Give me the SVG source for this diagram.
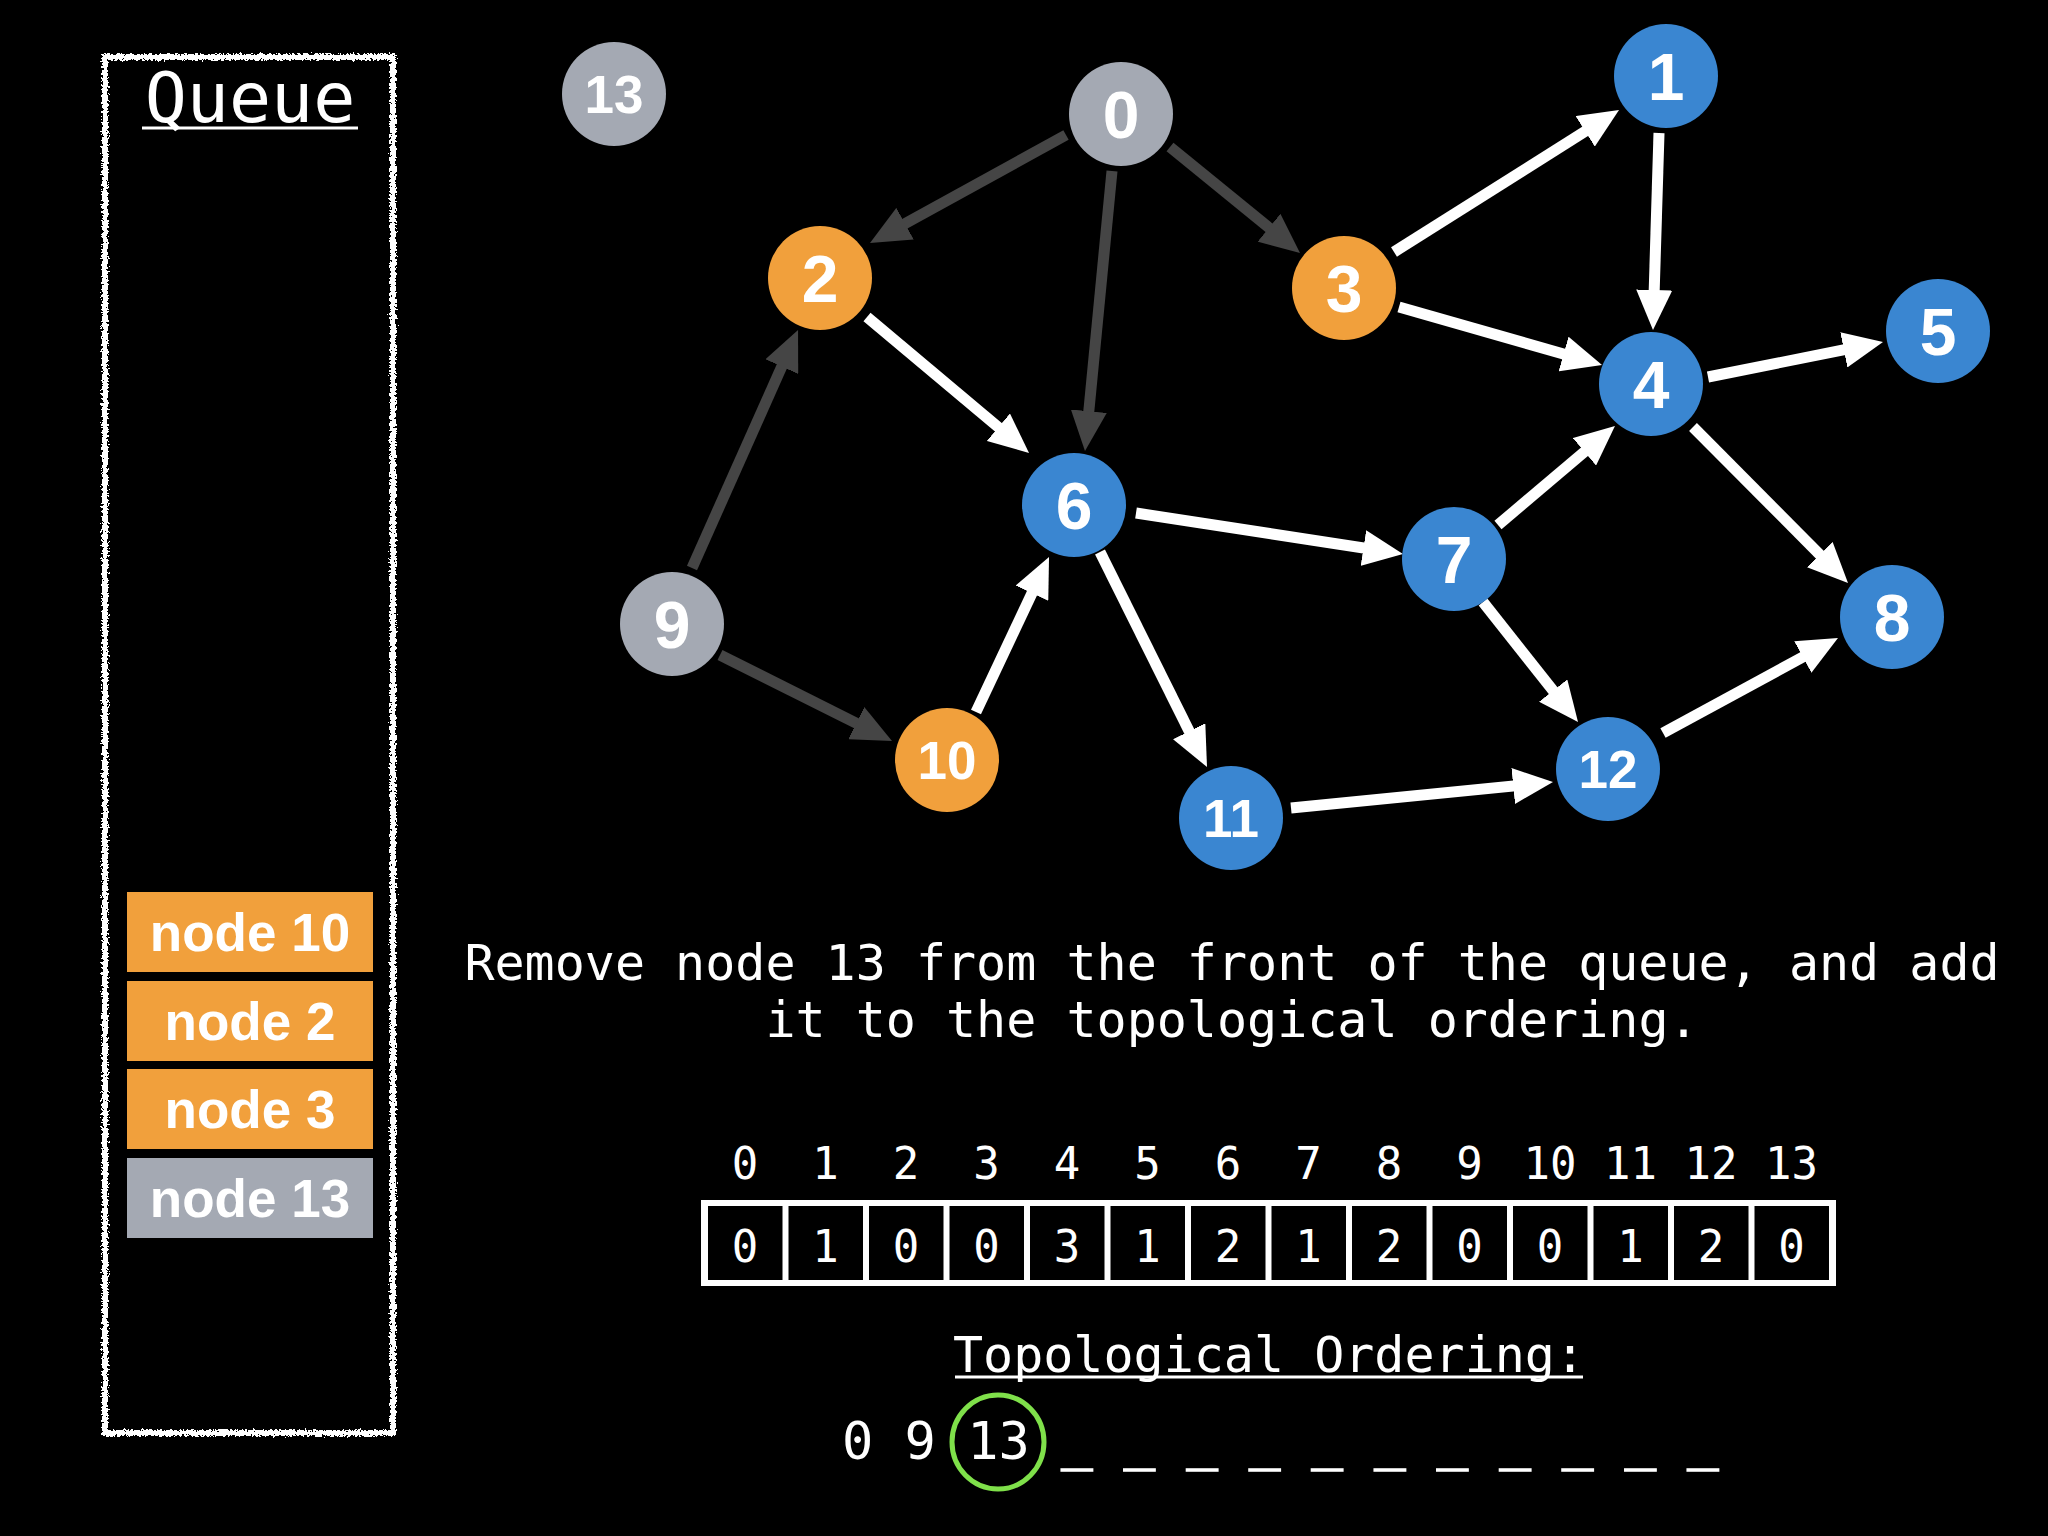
<svg xmlns="http://www.w3.org/2000/svg" width="2048" height="1536" viewBox="0 0 2048 1536">
<style>
.mono{font-family:"DejaVu Sans Mono","Liberation Mono",monospace;fill:#fff}
.lbl{font-family:"Liberation Sans",Arial,sans-serif;font-weight:bold;fill:#fff;text-anchor:middle}
.grey{fill:#a4a9b3}
.orange{fill:#f1a03c}
.blue{fill:#3a86d1}
.ew{stroke:#fff;stroke-width:11;fill:none}
.ed{stroke:#454545;stroke-width:11;fill:none}
.ew{marker-end:url(#aw)}
.ed{marker-end:url(#ad)}
</style>
<defs>
<marker id="aw" markerUnits="userSpaceOnUse" markerWidth="40" markerHeight="36" refX="20" refY="18" orient="auto" viewBox="0 0 40 36"><path d="M0,0 L40,18 L0,36 z" fill="#fff"/></marker>
<marker id="ad" markerUnits="userSpaceOnUse" markerWidth="40" markerHeight="36" refX="20" refY="18" orient="auto" viewBox="0 0 40 36"><path d="M0,0 L40,18 L0,36 z" fill="#454545"/></marker>
<filter id="rough" x="-5%" y="-5%" width="110%" height="110%"><feTurbulence type="fractalNoise" baseFrequency="0.45" numOctaves="2" seed="3"/><feDisplacementMap in="SourceGraphic" scale="7"/></filter>
</defs>
<rect width="2048" height="1536" fill="#000"/>

<g id="queue">
<rect x="105" y="57" width="288" height="1376" fill="none" stroke="#fff" stroke-width="6" filter="url(#rough)"/>
<text class="mono" x="250" y="122" font-size="70" text-anchor="middle">Queue</text>
<line x1="142" y1="128" x2="358" y2="128" stroke="#fff" stroke-width="3"/>
</g>
<g id="q-node10"><rect class="orange" x="127" y="892" width="246" height="80"/><text class="lbl" x="250" y="951" font-size="53">node 10</text></g>
<g id="q-node2"><rect class="orange" x="127" y="981" width="246" height="80"/><text class="lbl" x="250" y="1040" font-size="53">node 2</text></g>
<g id="q-node3"><rect class="orange" x="127" y="1069" width="246" height="80"/><text class="lbl" x="250" y="1128" font-size="53">node 3</text></g>
<g id="q-node13"><rect class="grey" x="127" y="1158" width="246" height="80"/><text class="lbl" x="250" y="1217" font-size="53">node 13</text></g>

<g id="connectors">
<line class="ed" x1="1066" y1="135" x2="887.5" y2="233.3"/>
<line class="ed" x1="1112" y1="171" x2="1086.9" y2="431.1"/>
<line class="ed" x1="1170" y1="147" x2="1284.5" y2="240.4"/>
<line class="ed" x1="692" y1="568" x2="789.9" y2="348.3"/>
<line class="ed" x1="720" y1="655" x2="874.1" y2="732.1"/>
<line class="ew" x1="867" y1="317" x2="1013.7" y2="440.1"/>
<line class="ew" x1="1394" y1="252" x2="1602.1" y2="120.7"/>
<line class="ew" x1="1659" y1="133" x2="1653.6" y2="310"/>
<line class="ew" x1="1399" y1="307" x2="1582.8" y2="359.5"/>
<line class="ew" x1="1708" y1="377" x2="1863.4" y2="345.9"/>
<line class="ew" x1="1693" y1="427" x2="1833.9" y2="568.8"/>
<line class="ew" x1="1498" y1="525" x2="1599.7" y2="438.9"/>
<line class="ew" x1="1136" y1="513" x2="1383.2" y2="551"/>
<line class="ew" x1="1100" y1="552" x2="1198.1" y2="749.1"/>
<line class="ew" x1="976" y1="712" x2="1040.5" y2="575.1"/>
<line class="ew" x1="1483" y1="602" x2="1565.6" y2="706.3"/>
<line class="ew" x1="1291" y1="808" x2="1533.1" y2="784"/>
<line class="ew" x1="1663" y1="733" x2="1820.4" y2="647.5"/>
</g>

<g id="n13"><circle class="grey" cx="614" cy="94" r="52"/><text class="lbl" x="614" y="113" font-size="53">13</text></g>
<g id="n0"><circle class="grey" cx="1121" cy="114" r="52"/><text class="lbl" x="1121" y="138" font-size="66">0</text></g>
<g id="n1"><circle class="blue" cx="1666" cy="76" r="52"/><text class="lbl" x="1666" y="100" font-size="66">1</text></g>
<g id="n2"><circle class="orange" cx="820" cy="278" r="52"/><text class="lbl" x="820" y="302" font-size="66">2</text></g>
<g id="n3"><circle class="orange" cx="1344" cy="288" r="52"/><text class="lbl" x="1344" y="312" font-size="66">3</text></g>
<g id="n4"><circle class="blue" cx="1651" cy="384" r="52"/><text class="lbl" x="1651" y="408" font-size="66">4</text></g>
<g id="n5"><circle class="blue" cx="1938" cy="331" r="52"/><text class="lbl" x="1938" y="355" font-size="66">5</text></g>
<g id="n6"><circle class="blue" cx="1074" cy="505" r="52"/><text class="lbl" x="1074" y="529" font-size="66">6</text></g>
<g id="n7"><circle class="blue" cx="1454" cy="559" r="52"/><text class="lbl" x="1454" y="583" font-size="66">7</text></g>
<g id="n8"><circle class="blue" cx="1892" cy="617" r="52"/><text class="lbl" x="1892" y="641" font-size="66">8</text></g>
<g id="n9"><circle class="grey" cx="672" cy="624" r="52"/><text class="lbl" x="672" y="648" font-size="66">9</text></g>
<g id="n10"><circle class="orange" cx="947" cy="760" r="52"/><text class="lbl" x="947" y="779" font-size="53">10</text></g>
<g id="n11"><circle class="blue" cx="1231" cy="818" r="52"/><text class="lbl" x="1231" y="837" font-size="53">11</text></g>
<g id="n12"><circle class="blue" cx="1608" cy="769" r="52"/><text class="lbl" x="1608" y="788" font-size="53">12</text></g>

<g id="message">
<text class="mono" x="1232" y="980" font-size="50" text-anchor="middle" xml:space="preserve">Remove node 13 from the front of the queue, and add</text>
<text class="mono" x="1232" y="1037" font-size="50" text-anchor="middle" xml:space="preserve">it to the topological ordering.</text>
</g>

<g id="indegree">
<g class="mono" font-size="44" text-anchor="middle">
<text x="745" y="1179">0</text><text x="825.5" y="1179">1</text><text x="906" y="1179">2</text><text x="986.5" y="1179">3</text><text x="1067" y="1179">4</text><text x="1147.5" y="1179">5</text><text x="1228" y="1179">6</text><text x="1308.5" y="1179">7</text><text x="1389" y="1179">8</text><text x="1469.5" y="1179">9</text><text x="1550" y="1179">10</text><text x="1630.5" y="1179">11</text><text x="1711" y="1179">12</text><text x="1791.5" y="1179">13</text>
</g>
<rect x="701" y="1200" width="1135" height="86" fill="#fff"/>
<g fill="#000">
<rect x="708" y="1206" width="74.5" height="74"/><rect x="788.5" y="1206" width="74.5" height="74"/><rect x="869" y="1206" width="74.5" height="74"/><rect x="949.5" y="1206" width="74.5" height="74"/><rect x="1030" y="1206" width="74.5" height="74"/><rect x="1110.5" y="1206" width="74.5" height="74"/><rect x="1191" y="1206" width="74.5" height="74"/><rect x="1271.5" y="1206" width="74.5" height="74"/><rect x="1352" y="1206" width="74.5" height="74"/><rect x="1432.5" y="1206" width="74.5" height="74"/><rect x="1513" y="1206" width="74.5" height="74"/><rect x="1593.5" y="1206" width="74.5" height="74"/><rect x="1674" y="1206" width="74.5" height="74"/><rect x="1754.5" y="1206" width="74.5" height="74"/>
</g>
<g class="mono" font-size="44" text-anchor="middle">
<text x="745" y="1262">0</text><text x="825.5" y="1262">1</text><text x="906" y="1262">0</text><text x="986.5" y="1262">0</text><text x="1067" y="1262">3</text><text x="1147.5" y="1262">1</text><text x="1228" y="1262">2</text><text x="1308.5" y="1262">1</text><text x="1389" y="1262">2</text><text x="1469.5" y="1262">0</text><text x="1550" y="1262">0</text><text x="1630.5" y="1262">1</text><text x="1711" y="1262">2</text><text x="1791.5" y="1262">0</text>
</g>
</g>

<g id="ordering">
<text class="mono" x="1269" y="1372" font-size="50" text-anchor="middle">Topological Ordering:</text>
<line x1="955" y1="1377" x2="1583" y2="1377" stroke="#fff" stroke-width="3"/>
<text class="mono" x="842" y="1459" font-size="52" xml:space="preserve">0 9 13<tspan stroke="#fff" stroke-width="1.5"> _ _ _ _ _ _ _ _ _ _ _</tspan></text>
<ellipse cx="998" cy="1442" rx="46" ry="47" fill="none" stroke="#7fe04a" stroke-width="5"/>
</g>
</svg>
